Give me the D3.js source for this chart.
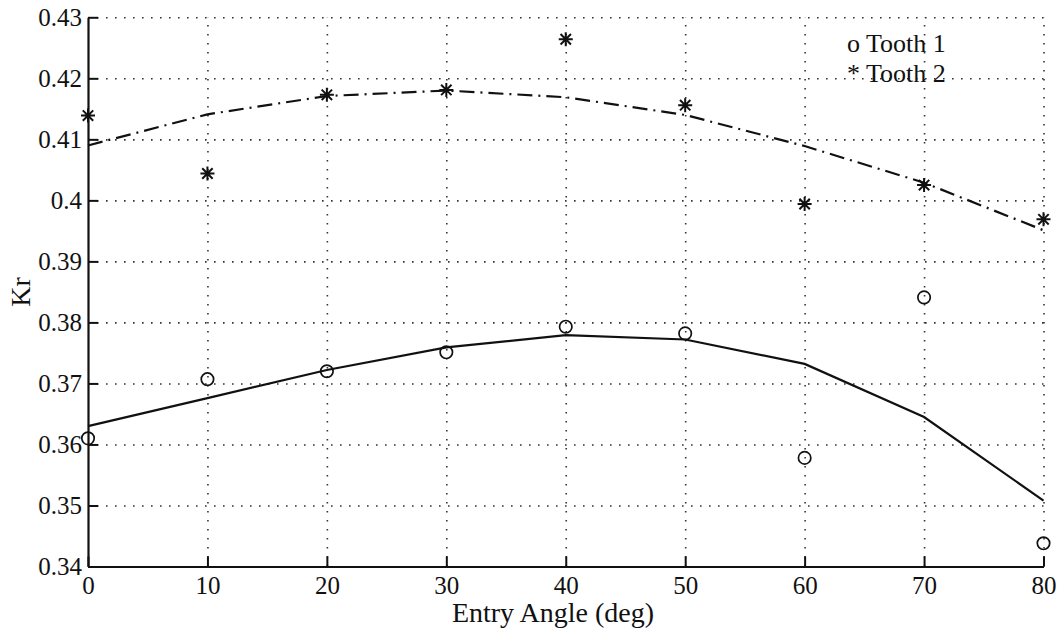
<!DOCTYPE html>
<html>
<head>
<meta charset="utf-8">
<script src="https://cdn.jsdelivr.net/npm/d3@7"></script>
<style>
  body { margin: 0; background: #fff; }
  svg { display: block; }
  .tick text { font-family: "Liberation Serif", "Times New Roman", serif; font-size: 25px; fill: #111; }
  .lbl { font-family: "Liberation Serif", "Times New Roman", serif; font-size: 28px; fill: #111; }
  .leg { font-size: 26px; }
</style>
</head>
<body>
<div id="chart"></div>
<script>
// data
const angles = [0, 10, 20, 30, 40, 50, 60, 70, 80];
const tooth1 = [0.3610, 0.3707, 0.3720, 0.3751, 0.3793, 0.3782, 0.3578, 0.3841, 0.3438];
const tooth2 = [0.4139, 0.4044, 0.4173, 0.4181, 0.4264, 0.4156, 0.3994, 0.4025, 0.3969];
const fit1 = [0.3630, 0.3676, 0.3722, 0.3759, 0.3779, 0.3772, 0.3732, 0.3645, 0.3508];
const fit2 = [0.4090, 0.4141, 0.4171, 0.4180, 0.4169, 0.4140, 0.4089, 0.4029, 0.3951];
const xTicks = [0, 10, 20, 30, 40, 50, 60, 70, 80];
const yTicks = [0.34, 0.35, 0.36, 0.37, 0.38, 0.39, 0.40, 0.41, 0.42, 0.43];
const legendLabels = ['o Tooth 1', '* Tooth 2'];

//layout
const W = 1060, H = 631;
const LEFT = 88, RIGHT = 1043.5, TOP = 17.3, BOTTOM = 566.5;

const svg = d3.select('#chart').append('svg')
    .attr('width', W)
    .attr('height', H);

const x = d3.scaleLinear().domain([0, 80]).range([LEFT, RIGHT]);
const y = d3.scaleLinear().domain([0.34, 0.43]).range([BOTTOM, TOP]);

//dotted grid
const gridX = d3.axisBottom(x).tickValues(xTicks.slice(1)).tickSize(-(BOTTOM - TOP)).tickFormat('');
const gridY = d3.axisLeft(y).tickValues(yTicks.slice(1)).tickSize(-(RIGHT - LEFT)).tickFormat('');

svg.append('g')
    .attr('transform', 'translate(0,' + BOTTOM + ')')
    .call(gridX)
    .call(g => g.select('.domain').remove());
svg.append('g')
    .attr('transform', 'translate(' + LEFT + ',0)')
    .call(gridY)
    .call(g => g.select('.domain').remove());
svg.selectAll('.tick line')
    .attr('stroke', '#333')
    .attr('stroke-width', 1.6)
    .attr('stroke-dasharray', '1.6,7.4');

//axes with inward ticks
const xAxis = d3.axisBottom(x).tickValues(xTicks).tickSizeInner(-10).tickSizeOuter(0).tickPadding(10).tickFormat(d3.format('d'));
const yAxis = d3.axisLeft(y).tickValues(yTicks).tickSizeInner(-10).tickSizeOuter(0).tickPadding(6).tickFormat(d => +d.toFixed(2));

const gx = svg.append('g')
    .attr('transform', 'translate(0,' + BOTTOM + ')')
    .call(xAxis);
const gy = svg.append('g')
    .attr('transform', 'translate(' + LEFT + ',0)')
    .call(yAxis);
[gx, gy].forEach(g => {
    g.select('.domain').attr('stroke', '#111').attr('stroke-width', 2.2);
    g.selectAll('.tick line').attr('stroke', '#111').attr('stroke-width', 2);
    g.selectAll('text').attr('font-family', null).attr('font-size', null);
});

//fit lines
const line = d3.line()
    .x((d, i) => x(angles[i]))
    .y(d => y(d));

svg.append('path')
    .datum(fit1)
    .attr('d', line)
    .attr('fill', 'none')
    .attr('stroke', '#111')
    .attr('stroke-width', 2.2);

svg.append('path')
    .datum(fit2)
    .attr('d', line)
    .attr('fill', 'none')
    .attr('stroke', '#111')
    .attr('stroke-width', 2.2)
    .attr('stroke-dasharray', '15,6,2,6');

//circle markers
svg.append('g').selectAll('circle')
    .data(tooth1)
    .enter()
    .append('circle')
    .attr('cx', (d, i) => x(angles[i]))
    .attr('cy', d => y(d))
    .attr('r', 6.2)
    .attr('fill', 'none')
    .attr('stroke', '#111')
    .attr('stroke-width', 1.7);

//star markers (plus + cross)
const s = 7, sd = 5.2;
const starPath = 'M' + (-s) + ',0L' + s + ',0M0,' + (-s) + 'L0,' + s +
    'M' + (-sd) + ',' + (-sd) + 'L' + sd + ',' + sd + 'M' + (-sd) + ',' + sd + 'L' + sd + ',' + (-sd);
svg.append('g').selectAll('path')
    .data(tooth2)
    .enter()
    .append('path')
    .attr('transform', (d, i) => 'translate(' + x(angles[i]) + ',' + y(d) + ')')
    .attr('d', starPath)
    .attr('stroke', '#111')
    .attr('stroke-width', 2);

//legend text
svg.selectAll('.leg')
    .data(legendLabels)
    .enter()
    .append('text')
    .attr('class', 'lbl leg')
    .attr('x', 847)
    .attr('y', (d, i) => 52 + i * 30)
    .text(d => d);

//axis labels
svg.append('text')
    .attr('class', 'lbl')
    .attr('x', 553)
    .attr('y', 622)
    .attr('text-anchor', 'middle')
    .text('Entry Angle (deg)');

svg.append('text')
    .attr('class', 'lbl')
    .attr('transform', 'translate(30,292) rotate(-90)')
    .attr('text-anchor', 'middle')
    .text('Kr');
</script>
</body>
</html>
